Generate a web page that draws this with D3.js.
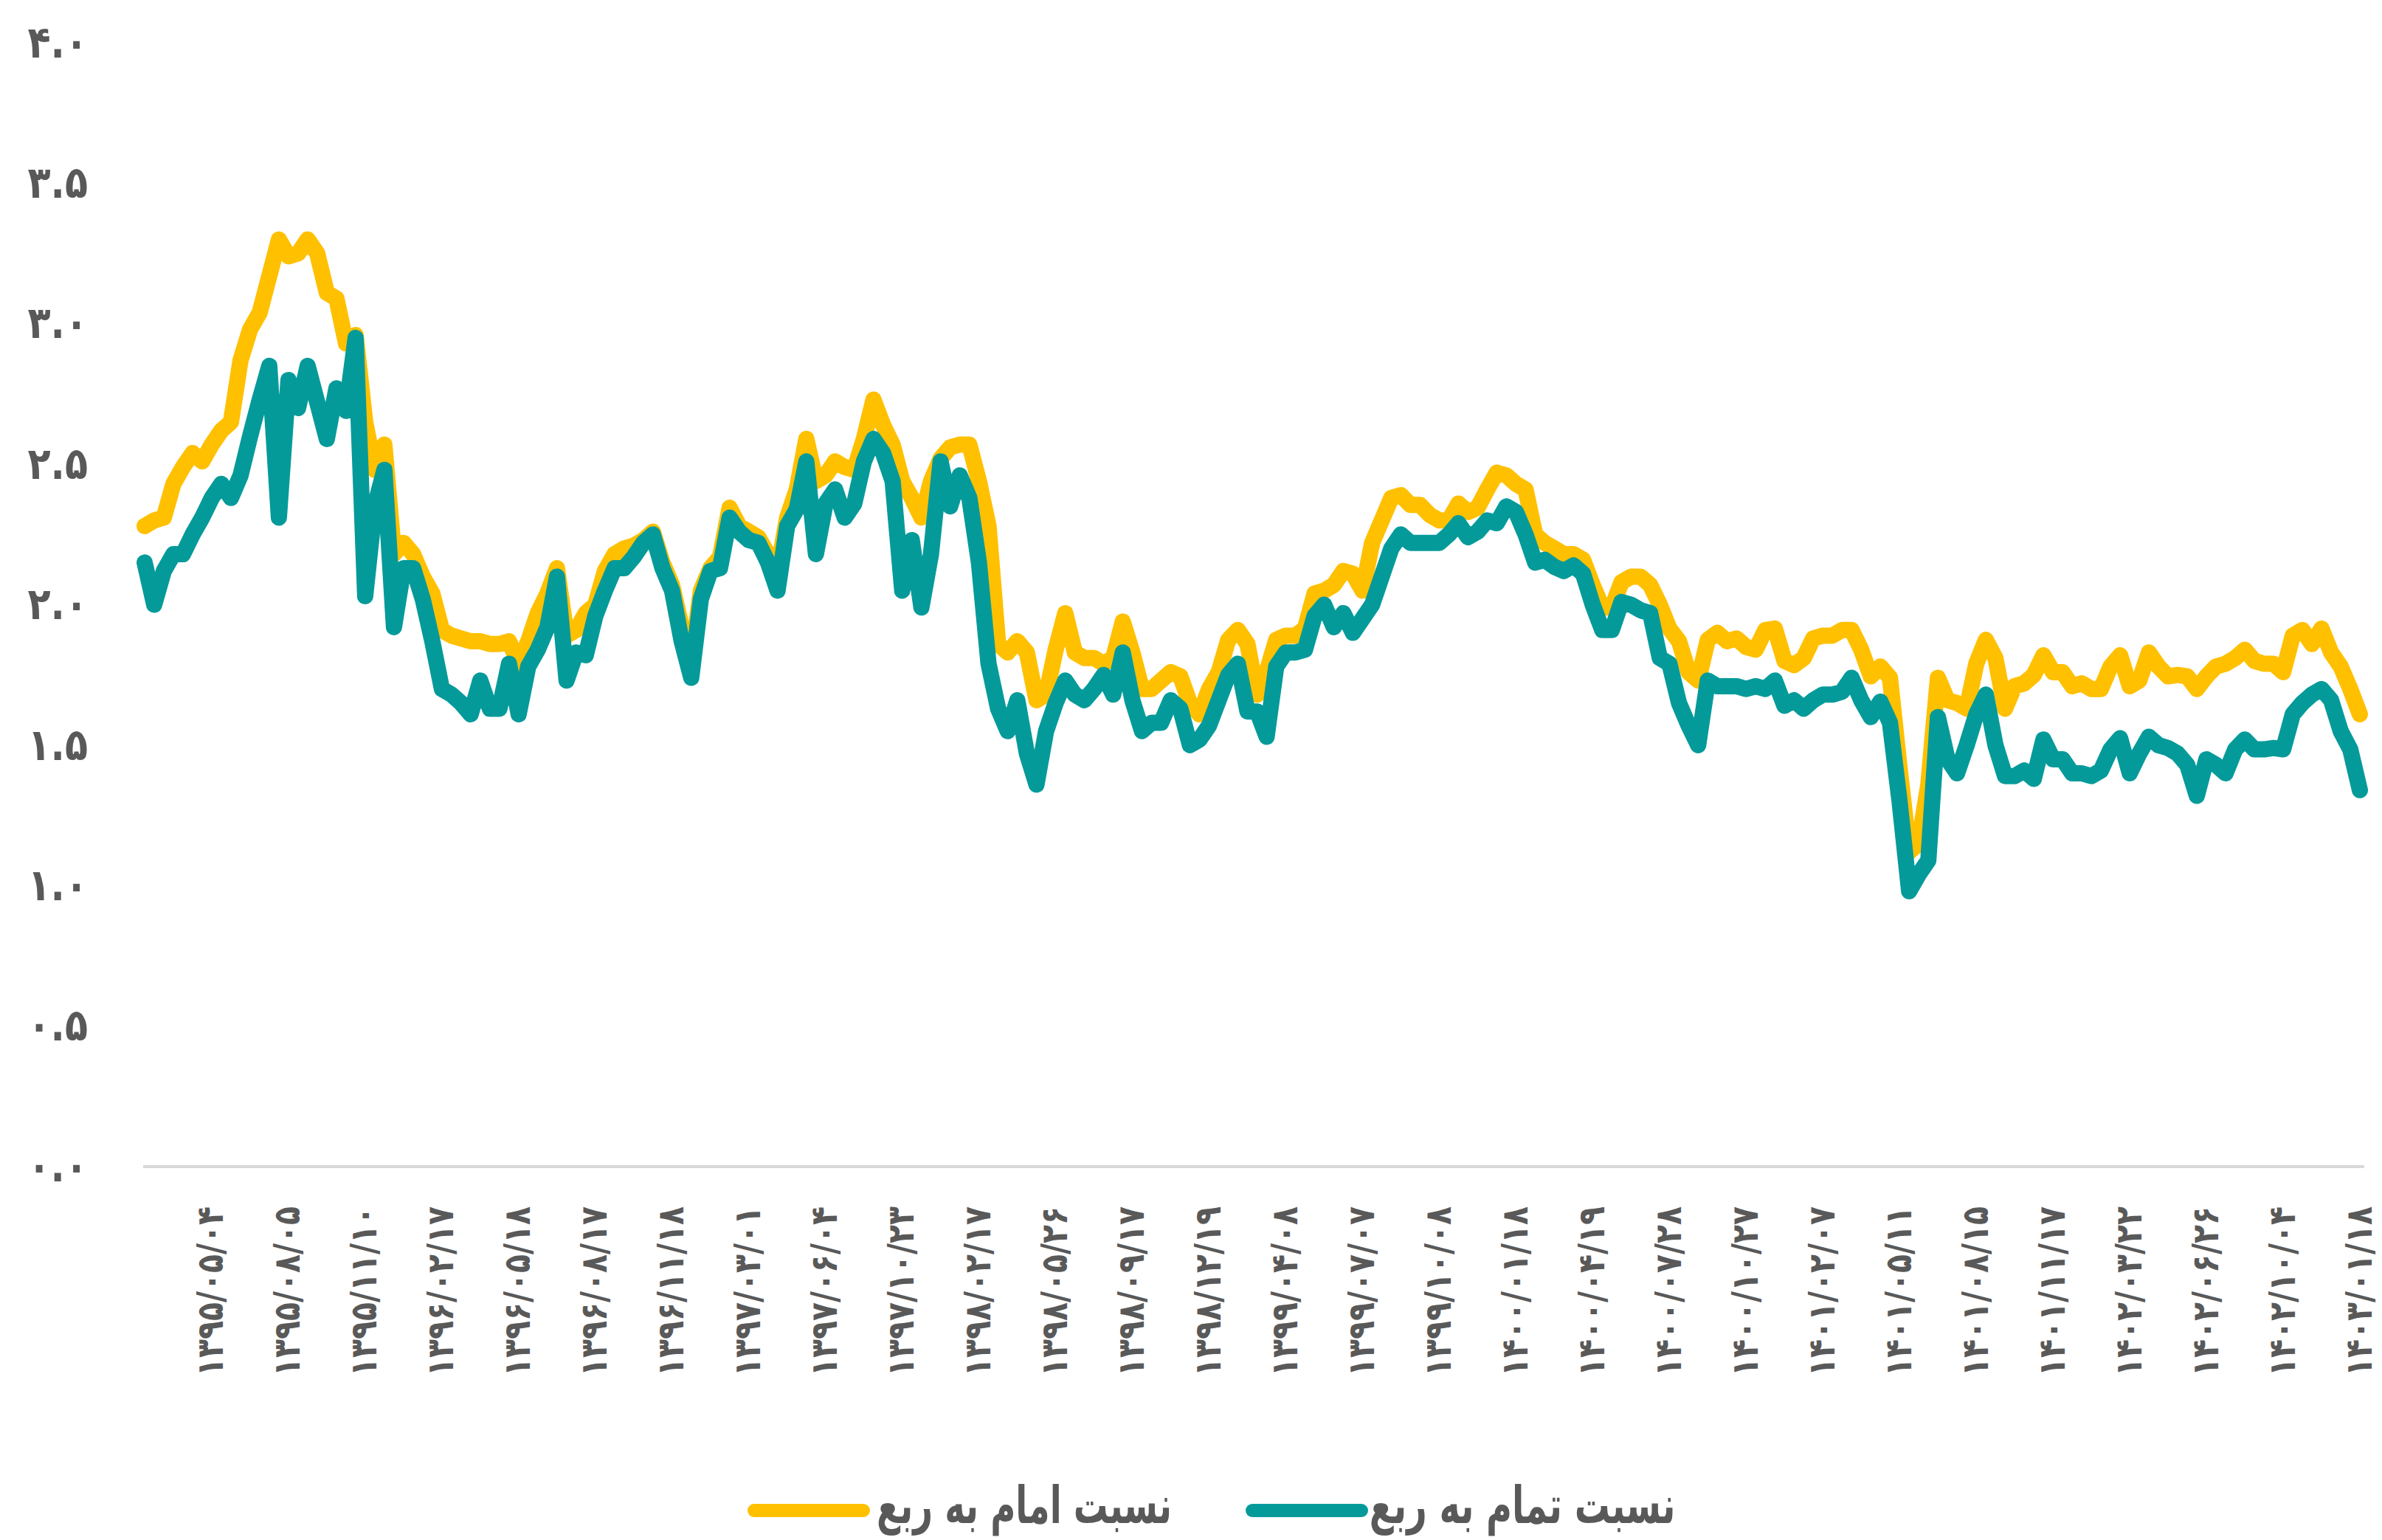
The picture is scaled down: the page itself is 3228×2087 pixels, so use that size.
<!DOCTYPE html>
<html><head><meta charset="utf-8">
<script src="https://cdn.jsdelivr.net/npm/d3@7"></script>
<style>body{margin:0;background:#fff}svg{display:block}</style>
</head><body>
<svg id="c" width="3228" height="2087"></svg>
<script>
// ---------- DATA ----------
const dates = ["۱۳۹۵/۰۵/۰۴","۱۳۹۵/۰۸/۰۵","۱۳۹۵/۱۱/۱۰","۱۳۹۶/۰۲/۱۷","۱۳۹۶/۰۵/۱۸","۱۳۹۶/۰۸/۱۷","۱۳۹۶/۱۱/۱۸","۱۳۹۷/۰۳/۰۱","۱۳۹۷/۰۶/۰۴","۱۳۹۷/۱۰/۲۳","۱۳۹۸/۰۲/۱۷","۱۳۹۸/۰۵/۲۶","۱۳۹۸/۰۹/۱۷","۱۳۹۸/۱۲/۱۹","۱۳۹۹/۰۴/۰۸","۱۳۹۹/۰۷/۰۷","۱۳۹۹/۱۰/۰۸","۱۴۰۰/۰۱/۱۸","۱۴۰۰/۰۴/۱۹","۱۴۰۰/۰۷/۲۸","۱۴۰۰/۱۰/۲۷","۱۴۰۱/۰۲/۰۷","۱۴۰۱/۰۵/۱۱","۱۴۰۱/۰۸/۱۵","۱۴۰۱/۱۱/۱۷","۱۴۰۲/۰۳/۲۲","۱۴۰۲/۰۶/۲۶","۱۴۰۲/۱۰/۰۴","۱۴۰۳/۰۱/۱۸"];
const labelOffset = 7;   // index of first labelled sample
const labelStep = 8;     // samples between labels

const yTickValues = [0,0.5,1,1.5,2,2.5,3,3.5,4];
const yTickLabels = ["۰.۰","۰.۵","۱.۰","۱.۵","۲.۰","۲.۵","۳.۰","۳.۵","۴.۰"];

const seriesNames = ["نسبت تمام به ربع","نسبت امام به ربع"];

// نسبت امام به ربع (yellow)
const imamRatio = [
2.28,2.30,2.31,2.43,2.49,2.54,2.51,2.57,2.62,2.65,
2.87,2.98,3.04,3.17,3.30,3.24,3.25,3.30,3.25,3.11,
3.09,2.93,2.96,2.65,2.48,2.57,2.18,2.22,2.18,2.10,
2.04,1.91,1.89,1.88,1.87,1.87,1.86,1.86,1.87,1.79,
1.87,1.97,2.04,2.13,1.89,1.91,1.97,2.00,2.12,2.18,
2.20,2.21,2.23,2.26,2.15,2.07,1.92,1.79,2.05,2.13,
2.17,2.345,2.28,2.26,2.24,2.18,2.12,2.31,2.41,2.59,
2.44,2.46,2.51,2.49,2.48,2.59,2.73,2.64,2.57,2.44,
2.38,2.31,2.44,2.52,2.56,2.57,2.57,2.44,2.28,1.86,
1.83,1.87,1.83,1.66,1.68,1.84,1.97,1.83,1.81,1.81,
1.79,1.81,1.94,1.83,1.70,1.70,1.73,1.76,1.745,1.65,
1.61,1.70,1.76,1.875,1.91,1.86,1.68,1.76,1.875,1.89,
1.89,1.915,2.04,2.05,2.07,2.12,2.11,2.05,2.22,2.30,
2.38,2.39,2.355,2.355,2.32,2.30,2.30,2.36,2.33,2.345,
2.41,2.47,2.46,2.43,2.41,2.25,2.22,2.20,2.18,2.18,
2.16,2.07,1.99,1.99,2.08,2.10,2.10,2.07,2.00,1.915,
1.87,1.76,1.73,1.875,1.90,1.87,1.88,1.85,1.84,1.91,
1.915,1.80,1.785,1.81,1.88,1.89,1.89,1.91,1.91,1.84,
1.745,1.78,1.74,1.42,1.12,1.15,1.36,1.74,1.66,1.65,
1.63,1.79,1.875,1.81,1.63,1.71,1.72,1.75,1.82,1.76,
1.76,1.71,1.72,1.70,1.70,1.78,1.82,1.71,1.73,1.83,
1.78,1.745,1.75,1.745,1.70,1.745,1.78,1.79,1.81,1.84,
1.80,1.79,1.79,1.76,1.89,1.91,1.86,1.915,1.83,1.78,
1.70,1.61];

// نسبت تمام به ربع (teal)
const tamamRatio = [
2.15,2.00,2.12,2.18,2.18,2.25,2.31,2.38,2.43,2.38,
2.46,2.60,2.73,2.85,2.31,2.80,2.70,2.85,2.72,2.59,
2.77,2.69,2.95,2.03,2.35,2.48,1.92,2.13,2.13,2.02,
1.87,1.70,1.68,1.65,1.61,1.73,1.63,1.63,1.79,1.61,
1.78,1.84,1.92,2.10,1.73,1.83,1.82,1.96,2.05,2.13,
2.13,2.17,2.22,2.25,2.13,2.05,1.87,1.74,2.02,2.12,
2.13,2.31,2.26,2.23,2.22,2.15,2.05,2.28,2.34,2.51,
2.18,2.36,2.41,2.31,2.36,2.51,2.59,2.54,2.44,2.05,
2.23,1.99,2.18,2.51,2.35,2.46,2.38,2.15,1.79,1.63,
1.55,1.66,1.47,1.36,1.55,1.65,1.73,1.68,1.66,1.70,
1.75,1.68,1.83,1.66,1.55,1.58,1.58,1.66,1.63,1.50,
1.52,1.57,1.66,1.75,1.79,1.62,1.62,1.53,1.78,1.83,
1.83,1.84,1.96,2.00,1.92,1.97,1.90,1.95,2.00,2.10,
2.20,2.25,2.22,2.22,2.22,2.22,2.25,2.29,2.24,2.26,
2.30,2.29,2.35,2.33,2.25,2.15,2.16,2.135,2.12,2.14,
2.11,2.00,1.91,1.91,2.01,2.00,1.98,1.97,1.81,1.79,
1.65,1.57,1.50,1.73,1.71,1.71,1.71,1.70,1.71,1.70,
1.73,1.64,1.66,1.63,1.66,1.68,1.68,1.69,1.74,1.66,
1.60,1.655,1.58,1.30,0.98,1.04,1.09,1.60,1.45,1.40,
1.50,1.61,1.68,1.50,1.39,1.39,1.41,1.38,1.52,1.45,
1.45,1.40,1.40,1.39,1.41,1.485,1.525,1.40,1.47,1.53,
1.50,1.49,1.47,1.43,1.32,1.45,1.43,1.40,1.485,1.52,
1.485,1.485,1.49,1.485,1.61,1.65,1.68,1.70,1.66,1.55,
1.485,1.34];

// ---------- CHART ----------
const N = tamamRatio.length;
const colors = {tamam:"#059A9A", imam:"#FFC000"};
const font = "'DejaVu Sans', sans-serif";
const svg = d3.select("#c");

const x = d3.scaleLinear().domain([0, N-1]).range([196, 3198]);
const y = d3.scaleLinear().domain([0, 4]).range([1581, 58]);

// x axis
const xAxis = d3.axisBottom(x)
  .tickValues(dates.map((d,i) => labelOffset + i*labelStep))
  .tickFormat((d,i) => dates[i])
  .tickSize(0).tickSizeOuter(0);
const gx = svg.append("g").attr("transform","translate(0,1581)").call(xAxis);
gx.select(".domain").attr("d","M194,0H3204").attr("stroke","#d9d9d9").attr("stroke-width",4);
gx.selectAll("text")
  .attr("transform","rotate(-90) scale(0.82,1)")
  .attr("text-anchor","end")
  .attr("direction","ltr")
  .attr("x",-54/0.82).attr("y",0).attr("dy","0.30em")
  .attr("fill","#595959")
  .style("font-family",font).style("font-size","50px").style("font-weight","bold");

// y axis
const yAxis = d3.axisLeft(y).tickValues(yTickValues)
  .tickFormat((d,i) => yTickLabels[i]).tickSize(0).tickPadding(0);
const gy = svg.append("g").attr("transform","translate(119,0)").call(yAxis);
gy.select(".domain").remove();
gy.selectAll("text")
  .attr("direction","ltr")
  .attr("transform","scale(0.85,1)")
  .attr("fill","#595959")
  .style("font-family",font).style("font-size","60px").style("font-weight","bold");

// lines
const line = d3.line().x((d,i) => x(i)).y(d => y(d));
svg.append("path").datum(imamRatio)
  .attr("d", line).attr("fill","none").attr("stroke",colors.imam)
  .attr("stroke-width",22).attr("stroke-linejoin","round").attr("stroke-linecap","round");
svg.append("path").datum(tamamRatio)
  .attr("d", line).attr("fill","none").attr("stroke",colors.tamam)
  .attr("stroke-width",22).attr("stroke-linejoin","round").attr("stroke-linecap","round");

// legend
const legend = [
  {name: seriesNames[1], color: colors.imam,  x1:1022, x2:1170, tx:1388, tw:400},
  {name: seriesNames[0], color: colors.tamam, x1:1697, x2:1845, tx:2063, tw:415}
];
const lg = svg.append("g");
legend.forEach(l => {
  lg.append("line").attr("x1",l.x1).attr("x2",l.x2).attr("y1",2047).attr("y2",2047)
    .attr("stroke",l.color).attr("stroke-width",18).attr("stroke-linecap","round");
  const t = lg.append("text").attr("x",0).attr("y",0)
    .attr("text-anchor","middle").attr("direction","rtl")
    .attr("fill","#595959")
    .style("font-family",font).style("font-weight","bold").style("font-size","70px")
    .text(l.name);
  const w = t.node().getComputedTextLength();
  const k = w > 0 ? l.tw / w : 1;
  t.attr("transform", `translate(${l.tx},2064) scale(${k.toFixed(3)},1)`);
});
</script>
</body></html>
